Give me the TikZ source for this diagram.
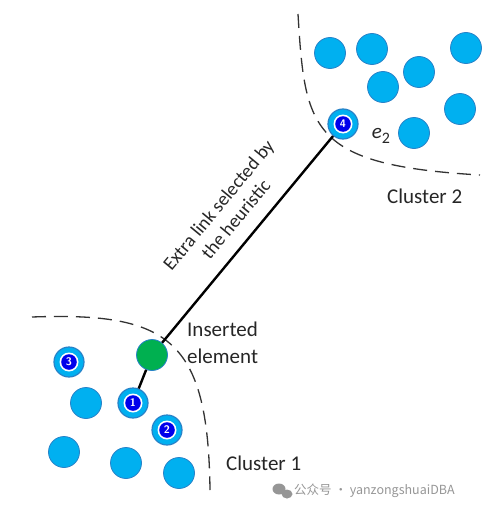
\documentclass[tikz,border=0pt]{standalone}
\usepackage{fontspec}
\setmainfont{Carlito}
\newfontfamily\cjk{Noto Sans CJK SC}
\definecolor{cblue}{RGB}{0,176,240}
\definecolor{cborder}{RGB}{40,130,200}
\definecolor{cgreen}{RGB}{0,176,80}
\definecolor{nblue}{RGB}{0,0,235}
\definecolor{wmgray}{RGB}{150,150,150}
\begin{document}
\begin{tikzpicture}[x=1pt,y=-1pt,
  dot/.style={circle,fill=cblue,draw=cborder,line width=0.8pt,minimum size=31pt,inner sep=0pt},
  marked/.style={dot,minimum size=30pt,line width=1.2pt,text=white,font=\sffamily\bfseries\fontsize{11}{11}\selectfont,
    path picture={\fill[white] (path picture bounding box.center) circle (9.5pt);
                  \fill[nblue] (path picture bounding box.center) circle (7.8pt);}},
  ins/.style={circle,fill=cgreen,draw=cborder,line width=0.8pt,minimum size=31pt,inner sep=0pt},
  boundary/.style={dash pattern=on 14pt off 8pt,line width=1.3pt,black!80},
  link/.style={line width=2.4pt,black},
  lbl/.style={font=\fontsize{21}{25}\selectfont,text=black!85,inner sep=0pt}]
\useasboundingbox (0,0) rectangle (492,511);
% cluster boundaries
\draw[boundary] (298,14) .. controls (305,130) and (310,165) .. (480,175);
\draw[boundary] (32,317) .. controls (170,312) and (208,340) .. (210,490);
% cluster 2
\node[dot] (c2a) at (330,53) {};
\node[dot] (c2b) at (372,49) {};
\node[dot] (c2c) at (466,48) {};
\node[dot] (c2d) at (419,72) {};
\node[dot] (c2e) at (383,87) {};
\node[dot] (c2f) at (460,109) {};
\node[dot] (c2g) at (414,133) {};
\node[marked] (n4) at (343,124) {4};
\node[lbl,font=\fontsize{21}{24}\selectfont] (e2) at (381,136) {\textit{e}\raisebox{-0.45ex}{\fontsize{16}{16}\selectfont 2}};
\node[lbl,anchor=west] (cl2) at (387,196) {Cluster 2};
% cluster 1
\node[ins] (g) at (152,355) {};
\node[marked] (n3) at (69,362) {3};
\node[dot] (c1a) at (86,403) {};
\node[marked] (n1) at (133,403) {1};
\node[marked] (n2) at (167,430) {2};
\node[dot] (c1b) at (64,452) {};
\node[dot] (c1c) at (126,463) {};
\node[dot] (c1d) at (179,473) {};
\node[lbl,anchor=west,align=left,font=\fontsize{21}{27}\selectfont] (ie) at (187,343) {Inserted\\element};
\node[lbl,anchor=west] (cl1) at (226,463) {Cluster 1};
% links
\draw[link] (g) -- (n4);
\draw[link] (g) -- (n1);
\node[lbl,rotate=50.4,align=center,font=\fontsize{19}{22.5}\selectfont] (lt) at (227,212) {Extra link selected by\\the heuristic};
% watermark
\fill[wmgray] (279,489) ellipse (6.5pt and 5.5pt);
\fill[wmgray] (287,494) ellipse (5.5pt and 4.5pt);
\node[anchor=west,text=wmgray,inner sep=0pt,font=\cjk\fontsize{12.5}{14}\selectfont] (wm) at (294,491) {公众号 · yanzongshuaiDBA};
\end{tikzpicture}
\end{document}
